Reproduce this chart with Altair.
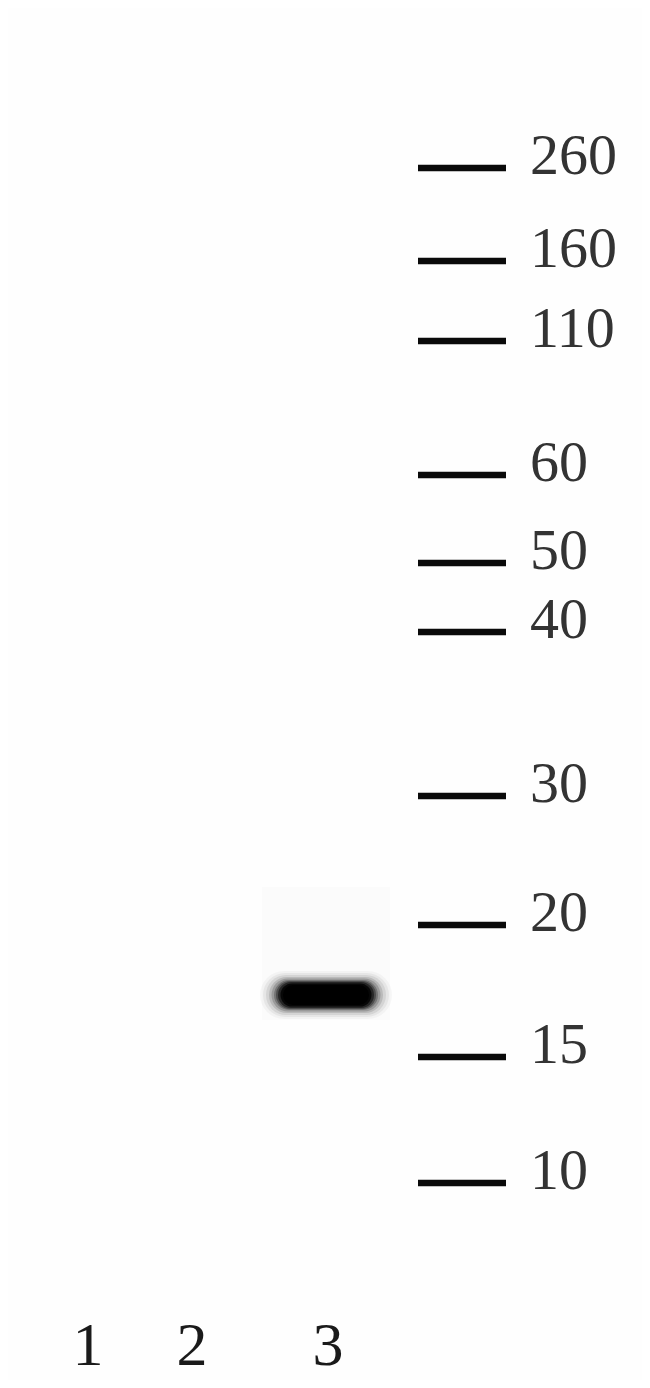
import altair as alt
import pandas as pd

# ---- data read from the blot ----
marker_kda = [260, 160, 110, 60, 50, 40, 30, 20, 15, 10]
marker_migration = [168, 261, 341, 475, 563, 632, 796, 925, 1057, 1183]  # distance from top of image
ladder_span = [418, 506]          # horizontal extent of ladder tick marks
ladder_label_pos = 530            # left edge of kDa labels

lane_labels = ["1", "2", "3"]
lane_center = [88, 192, 328]
lane_label_row = 1365

band_lane = ["3"]
band_center = [326]
band_migration = [995]
band_halfwidth = [42]

smear_lane = ["3"]
smear_span = [262, 390]
smear_migration = [887, 1020]

W, H = 634, 1372
xs = alt.Scale(domain=[8, 8 + W])
ys = alt.Scale(domain=[8, 8 + H], reverse=True)

markers = pd.DataFrame({"kda": marker_kda, "mig": marker_migration,
                        "label": [str(k) for k in marker_kda],
                        "x0": ladder_span[0], "x1": ladder_span[1],
                        "tx": ladder_label_pos})
lanes = pd.DataFrame({"label": lane_labels, "pos": lane_center, "row": lane_label_row})
band = pd.DataFrame({"lane": band_lane, "c": band_center, "mig": band_migration,
                     "hw": band_halfwidth})
smear = pd.DataFrame({"lane": smear_lane, "x0": [smear_span[0]], "x1": [smear_span[1]],
                      "y0": [smear_migration[0]], "y1": [smear_migration[1]]})

smear_layer = alt.Chart(smear).mark_rect(color="#000", opacity=0.012).encode(
    x=alt.X("x0:Q", scale=xs, axis=None), x2="x1:Q",
    y=alt.Y("y0:Q", scale=ys, axis=None), y2="y1:Q")

# soft-edged band built from stacked translucent round-capped strokes
glow = [(48, 0.03, 0), (44, 0.05, 1), (40, 0.08, 2), (36, 0.12, 3), (33, 0.17, 4),
        (30, 0.24, 5), (28, 0.34, 6), (26, 0.5, 7), (23, 0.8, 8), (20, 1.0, 9)]
band_layers = []
for w, o, s in glow:
    band_layers.append(
        alt.Chart(band).transform_calculate(
            xa=f"datum.c - datum.hw + {s}", xb=f"datum.c + datum.hw - {s}"
        ).mark_rule(color="#000", strokeWidth=w, opacity=o, strokeCap="round").encode(
            x=alt.X("xa:Q", scale=xs, axis=None), x2="xb:Q",
            y=alt.Y("mig:Q", scale=ys, axis=None))
    )

ladder = alt.Chart(markers).mark_rule(color="#0a0a0a", strokeWidth=6.5).encode(
    x=alt.X("x0:Q", scale=xs, axis=None), x2="x1:Q",
    y=alt.Y("mig:Q", scale=ys, axis=None))

ladder_text = alt.Chart(markers).mark_text(
    align="left", baseline="alphabetic", dy=6, font="Liberation Serif",
    fontSize=58, color="#333333").encode(
    x=alt.X("tx:Q", scale=xs, axis=None),
    y=alt.Y("mig:Q", scale=ys, axis=None), text="label:N")

lane_text = alt.Chart(lanes).mark_text(
    align="center", baseline="alphabetic", font="Liberation Serif",
    fontSize=62, color="#1a1a1a").encode(
    x=alt.X("pos:Q", scale=xs, axis=None),
    y=alt.Y("row:Q", scale=ys, axis=None), text="label:N")

chart = alt.layer(smear_layer, *band_layers, ladder, ladder_text, lane_text).properties(
    width=W, height=H, padding=0,
    autosize=alt.AutoSizeParams(type="none"),
    background="#fefefe"
).configure_view(stroke=None)

chart.save("out.html", embed_options={"renderer": "svg", "actions": False})
